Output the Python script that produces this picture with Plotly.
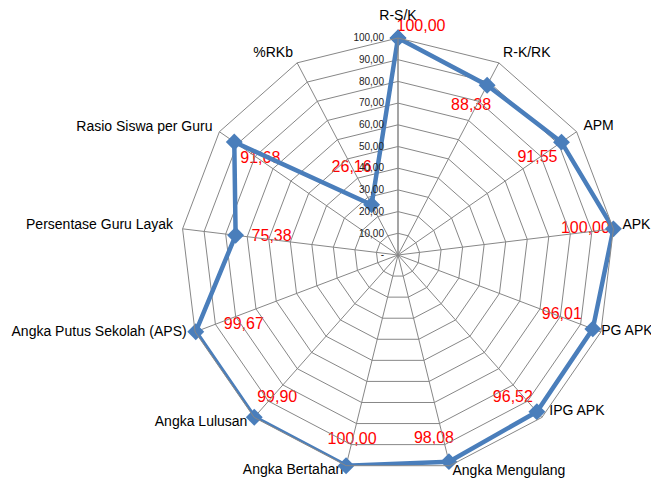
import math
import plotly.graph_objects as go

# ---- data ----
categories = [
    "R-S/K", "R-K/RK", "APM", "APK", "PG APK", "IPG APK", "Angka Mengulang",
    "Angka Bertahan", "Angka Lulusan", "Angka Putus Sekolah (APS)",
    "Persentase Guru Layak", "Rasio Siswa per Guru", "%RKb",
]
values = [100.00, 88.38, 91.55, 100.00, 96.01, 96.52, 98.08,
          100.00, 99.90, 99.67, 75.38, 91.68, 26.16]
tick_vals = [0, 10, 20, 30, 40, 50, 60, 70, 80, 90, 100]
tick_text = ["-", "10,00", "20,00", "30,00", "40,00", "50,00", "60,00",
             "70,00", "80,00", "90,00", "100,00"]

# ---- layout / style ----
# the page body has an 8px margin, so the figure is drawn 8px smaller
W, H = 651, 474
CX, CY, RPX = 390, 247, 217          # centre and radius of the radar, px
LINE_COLOR = "#4A7EBB"
GRID = "#878787"
FONT = "Liberation Sans, Arial"
# pixel offsets of each data label from its point (dx right, dy down)
label_offsets = [(23, -11), (-16, 21), (-24, 16), (-28, 0), (-31, -14),
                 (-24, -14), (-15, -23), (6, -26), (23, -19), (48, -7),
                 (36, 2), (26, 17), (-20, -37)]
# pixel offsets of each category label centre from its outer vertex
cat_offsets = [(0, -22), (28, -9), (22, -5), (23, -3), (26, 0), (35, -6),
               (59, 6), (-53, 5), (-53, 5), (-96, 1), (-83, -3), (-75, -4),
               (-24, -9)]

def fmt(v):
    return f"{v:.2f}".replace(".", ",")

dom_x = [(CX - RPX) / W, (CX + RPX) / W]
dom_y = [(H - CY - RPX) / H, (H - CY + RPX) / H]
rmax = tick_vals[-1]
scale = RPX / rmax
n = len(categories)

def to_px(r_list, offsets):
    """Pixel position (relative to the radar centre, y up) of labels placed
    next to each radar point."""
    xs, ys = [], []
    for i, (v, (dx, dy)) in enumerate(zip(r_list, offsets)):
        th = math.radians(i * 360 / n)
        xs.append(v * scale * math.sin(th) + dx)
        ys.append(v * scale * math.cos(th) - dy)
    return xs, ys

lab_x, lab_y = to_px(values, label_offsets)
cat_x, cat_y = to_px([rmax] * n, cat_offsets)

fig = go.Figure()
fig.add_trace(go.Scatterpolar(
    r=values + values[:1], theta=categories + categories[:1],
    mode="lines+markers",
    line=dict(color=LINE_COLOR, width=4.5),
    marker=dict(symbol="diamond", size=13, color=LINE_COLOR),
    showlegend=False, subplot="polar", hoverinfo="skip", cliponaxis=False,
))
fig.add_trace(go.Scatter(
    x=lab_x, y=lab_y, mode="text",
    text=[fmt(v) for v in values],
    textposition="middle center",
    textfont=dict(family=FONT, size=16, color="#FF0000"),
    showlegend=False, hoverinfo="skip", cliponaxis=False,
))
fig.add_trace(go.Scatter(
    x=cat_x, y=cat_y, mode="text",
    text=categories,
    textposition="middle center",
    textfont=dict(family=FONT, size=14, color="#000000"),
    showlegend=False, hoverinfo="skip", cliponaxis=False,
))

fig.update_layout(
    width=W, height=H,
    margin=dict(l=0, r=0, t=0, b=0),
    paper_bgcolor="white",
    plot_bgcolor="rgba(0,0,0,0)",
    font=dict(family=FONT, color="#000000"),
    xaxis=dict(range=[-CX, W - CX], domain=[0, 1], visible=False,
               fixedrange=True),
    yaxis=dict(range=[-(H - CY), CY], domain=[0, 1], visible=False,
               fixedrange=True),
    polar=dict(
        domain=dict(x=dom_x, y=dom_y),
        bgcolor="rgba(0,0,0,0)",
        gridshape="linear",
        radialaxis=dict(
            range=[0, rmax], angle=90, side="counterclockwise",
            tickvals=tick_vals, ticktext=tick_text,
            tickfont=dict(size=10, color="#222222"),
            showline=True, linecolor=GRID, linewidth=1,
            gridcolor=GRID, gridwidth=1,
            ticks="outside", ticklen=10, tickcolor="rgba(0,0,0,0)",
            tickangle=90,
        ),
        angularaxis=dict(
            rotation=90, direction="clockwise",
            categoryorder="array", categoryarray=categories,
            showticklabels=False,
            showline=True, linecolor=GRID, linewidth=1,
            gridcolor=GRID, gridwidth=1, ticks="",
        ),
    ),
)

fig.write_html("out.html")
